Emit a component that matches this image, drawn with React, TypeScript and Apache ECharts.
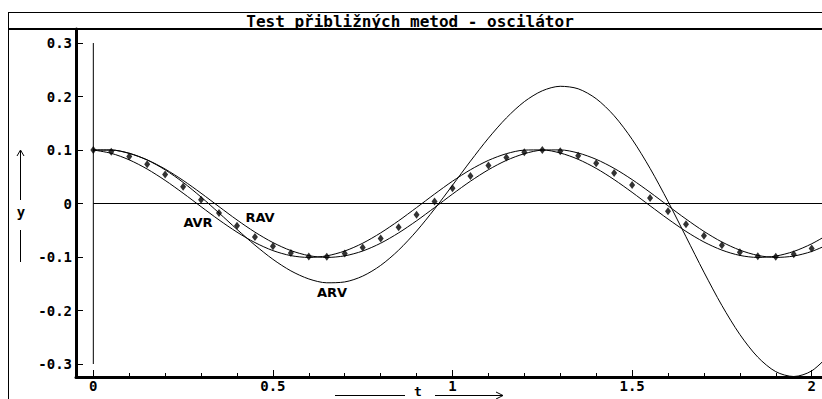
import React, { useEffect, useRef } from "react";
import * as echarts from "echarts";

// time steps (h = 0.05)
const T = [0, 0.05, 0.1, 0.15, 0.2, 0.25, 0.3, 0.35, 0.4, 0.45, 0.5, 0.55, 0.6, 0.65, 0.7, 0.75, 0.8, 0.85, 0.9, 0.95, 1, 1.05, 1.1, 1.15, 1.2, 1.25, 1.3, 1.35, 1.4, 1.45, 1.5, 1.55, 1.6, 1.65, 1.7, 1.75, 1.8, 1.85, 1.9, 1.95, 2, 2.05];
// reference solution (diamond markers)
const EXACT = [0.1, 0.0969, 0.0878, 0.0732, 0.054, 0.0315, 0.0071, -0.0178, -0.0416, -0.0628, -0.0801, -0.0924, -0.099, -0.0994, -0.0936, -0.0821, -0.0654, -0.0446, -0.0211, 0.0038, 0.0284, 0.0512, 0.0709, 0.0861, 0.096, 0.0999, 0.0977, 0.0893, 0.0754, 0.0568, 0.0347, 0.0104, -0.0145, -0.0386, -0.0602, -0.0781, -0.0911, -0.0985, -0.0997, -0.0948, -0.0839, -0.0678];
const AVR = [0.1, 0.0938, 0.0816, 0.0644, 0.0432, 0.0193, -0.0059, -0.0307, -0.0535, -0.073, -0.088, -0.0974, -0.1008, -0.0978, -0.0888, -0.0742, -0.0549, -0.0323, -0.0076, 0.0176, 0.0417, 0.0631, 0.0806, 0.0931, 0.0998, 0.1002, 0.0944, 0.0826, 0.0657, 0.0447, 0.0209, -0.0042, -0.029, -0.0521, -0.0719, -0.0871, -0.097, -0.1008, -0.0982, -0.0896, -0.0753, -0.0564];
const RAV = [0.1, 0.1, 0.0938, 0.0816, 0.0644, 0.0432, 0.0193, -0.0059, -0.0307, -0.0535, -0.073, -0.088, -0.0974, -0.1008, -0.0978, -0.0888, -0.0742, -0.0549, -0.0323, -0.0076, 0.0176, 0.0417, 0.0631, 0.0806, 0.0931, 0.0998, 0.1002, 0.0944, 0.0826, 0.0657, 0.0447, 0.0209, -0.0042, -0.029, -0.0521, -0.0719, -0.0871, -0.097, -0.1008, -0.0982, -0.0896, -0.0753];
const ARV = [0.1, 0.1, 0.0938, 0.0813, 0.0629, 0.0395, 0.0121, -0.0177, -0.0483, -0.0778, -0.1043, -0.1259, -0.141, -0.1482, -0.1466, -0.1357, -0.1157, -0.0872, -0.0515, -0.0103, 0.0341, 0.0792, 0.1221, 0.16, 0.1904, 0.2107, 0.2191, 0.2144, 0.1959, 0.1641, 0.12, 0.0657, 0.0039, -0.0621, -0.1283, -0.1906, -0.2448, -0.2872, -0.3143, -0.3234, -0.3129, -0.2822];

const X_MAJOR = [0, 0.5, 1, 1.5, 2];
const X_LABELS = ["0", "0.5", "1", "1.5", "2"];
const X_MINOR = [0.1, 0.2, 0.3, 0.4, 0.6, 0.7, 0.8, 0.9, 1.1, 1.2, 1.3, 1.4, 1.6, 1.7, 1.8, 1.9];
const Y_TICKS = [-0.3, -0.2, -0.1, 0, 0.1, 0.2, 0.3];
const Y_LABELS = ["-0.3", "-0.2", "-0.1", "0", "0.1", "0.2", "0.3"];
const ZERO_LINE_T = [0, 2.1];
const T0_LINE_Y = [-0.3, 0.3];

const TITLE = "Test přibližných metod - oscilátor";

const X_MIN = -0.0482;
const X_MAX = 2.0287;
const Y_MIN = -0.3243;
const Y_MAX = 0.3262;

const MONO = '"DejaVu Sans Mono", "Liberation Mono", monospace';
const SANS = '"DejaVu Sans", "Liberation Sans", sans-serif';

function labelOf(values: number[], labels: string[], v: number) {
  const i = values.findIndex((t) => Math.abs(t - v) < 1e-9);
  return i >= 0 ? labels[i] : "";
}

export default function App() {
  const ref = useRef<HTMLDivElement>(null);
  useEffect(() => {
    if (!ref.current) return;
    const chart = echarts.init(ref.current, null, { renderer: "svg" });
    const black = "#000";
    const lineSeries = (name: string, ys: number[]) => ({
      name,
      type: "line",
      data: T.map((t, i) => [t, ys[i]]),
      showSymbol: false,
      symbol: "none",
      smooth: 0.3,
      lineStyle: { color: black, width: 1 },
      silent: true,
      clip: true,
    });
    const option: any = {
      animation: false,
      backgroundColor: "#fff",
      grid: { left: 76, right: 0, top: 29, bottom: 22, containLabel: false },
      xAxis: [
        {
          type: "value",
          min: X_MIN,
          max: X_MAX,
          position: "bottom",
          axisLine: { show: true, onZero: false, lineStyle: { color: black, width: 3 } },
          axisTick: { show: true, inside: true, length: 7, customValues: X_MAJOR, lineStyle: { color: black, width: 1 } },
          axisLabel: {
            show: true,
            customValues: X_MAJOR,
            formatter: (v: number) => labelOf(X_MAJOR, X_LABELS, v),
            color: black,
            fontFamily: MONO,
            fontWeight: "bold",
            fontSize: 14,
            margin: 2,
          },
          splitLine: { show: false },
        },
        {
          type: "value",
          min: X_MIN,
          max: X_MAX,
          position: "bottom",
          axisLine: { show: false, onZero: false },
          axisTick: { show: true, inside: true, length: 4, customValues: X_MINOR, lineStyle: { color: black, width: 1 } },
          axisLabel: { show: false },
          splitLine: { show: false },
        },
      ],
      yAxis: {
        type: "value",
        min: Y_MIN,
        max: Y_MAX,
        axisLine: { show: true, onZero: false, lineStyle: { color: black, width: 3 } },
        axisTick: { show: true, inside: true, length: 7, customValues: Y_TICKS, lineStyle: { color: black, width: 1 } },
        axisLabel: {
          show: true,
          customValues: Y_TICKS,
          formatter: (v: number) => labelOf(Y_TICKS, Y_LABELS, v),
          color: black,
          fontFamily: MONO,
          fontWeight: "bold",
          fontSize: 14,
          margin: 4,
        },
        splitLine: { show: false },
      },
      series: [
        {
          type: "line",
          data: ZERO_LINE_T.map((t) => [t, 0]),
          symbol: "none",
          lineStyle: { color: black, width: 1 },
          silent: true,
          clip: true,
        },
        {
          type: "line",
          data: T0_LINE_Y.map((y) => [0, y]),
          symbol: "none",
          lineStyle: { color: black, width: 1 },
          silent: true,
          clip: true,
        },
        lineSeries("AVR", AVR),
        lineSeries("RAV", RAV),
        lineSeries("ARV", ARV),
        {
          name: "exact",
          type: "scatter",
          data: T.map((t, i) => [t, EXACT[i]]),
          symbol: "diamond",
          symbolSize: [6, 8],
          itemStyle: { color: black },
          silent: true,
          clip: true,
        },
      ],
      graphic: [
        { type: "line", shape: { x1: 8, y1: 12.5, x2: 822, y2: 12.5 }, style: { stroke: black, lineWidth: 1 }, silent: true },
        { type: "line", shape: { x1: 8, y1: 29, x2: 822, y2: 29 }, style: { stroke: black, lineWidth: 2 }, silent: true },
        { type: "line", shape: { x1: 8.5, y1: 12, x2: 8.5, y2: 399 }, style: { stroke: black, lineWidth: 1 }, silent: true },
        {
          type: "text",
          x: 410,
          y: 21,
          style: { text: TITLE, fill: black, fontFamily: MONO, fontWeight: "bold", fontSize: 16, align: "center", verticalAlign: "middle" },
          silent: true,
        },
        // y axis caption with arrow
        { type: "line", shape: { x1: 20.5, y1: 200, x2: 20.5, y2: 151 }, style: { stroke: black, lineWidth: 1 }, silent: true },
        { type: "polyline", shape: { points: [[17, 156], [20.5, 150], [24, 156]] }, style: { stroke: black, lineWidth: 1, fill: "none" }, silent: true },
        {
          type: "text",
          x: 21,
          y: 211.5,
          style: { text: "y", fill: black, fontFamily: MONO, fontWeight: "bold", fontSize: 14, align: "center", verticalAlign: "middle" },
          silent: true,
        },
        { type: "line", shape: { x1: 20.5, y1: 230, x2: 20.5, y2: 262 }, style: { stroke: black, lineWidth: 1 }, silent: true },
        // t axis caption with arrow
        { type: "line", shape: { x1: 335, y1: 395.5, x2: 405, y2: 395.5 }, style: { stroke: black, lineWidth: 1 }, silent: true },
        {
          type: "text",
          x: 418,
          y: 391.5,
          style: { text: "t", fill: black, fontFamily: MONO, fontWeight: "bold", fontSize: 13, align: "center", verticalAlign: "middle" },
          silent: true,
        },
        { type: "line", shape: { x1: 435, y1: 395.5, x2: 503, y2: 395.5 }, style: { stroke: black, lineWidth: 1 }, silent: true },
        { type: "polyline", shape: { points: [[496, 392], [503, 395.5], [496, 399]] }, style: { stroke: black, lineWidth: 1, fill: "none" }, silent: true },
        // curve labels
        {
          type: "text",
          x: 198,
          y: 222,
          style: { text: "AVR", fill: black, fontFamily: SANS, fontWeight: "bold", fontSize: 13, align: "center", verticalAlign: "middle" },
          silent: true,
        },
        {
          type: "text",
          x: 260,
          y: 217,
          style: { text: "RAV", fill: black, fontFamily: SANS, fontWeight: "bold", fontSize: 13, align: "center", verticalAlign: "middle" },
          silent: true,
        },
        {
          type: "text",
          x: 332,
          y: 292,
          style: { text: "ARV", fill: black, fontFamily: SANS, fontWeight: "bold", fontSize: 13, align: "center", verticalAlign: "middle" },
          silent: true,
        },
      ],
    };
    chart.setOption(option);
    return () => chart.dispose();
  }, []);
  return (
    <div
      ref={ref}
      style={{ position: "fixed", left: 0, top: 0, width: 822, height: 399, background: "#fff" }}
    />
  );
}
